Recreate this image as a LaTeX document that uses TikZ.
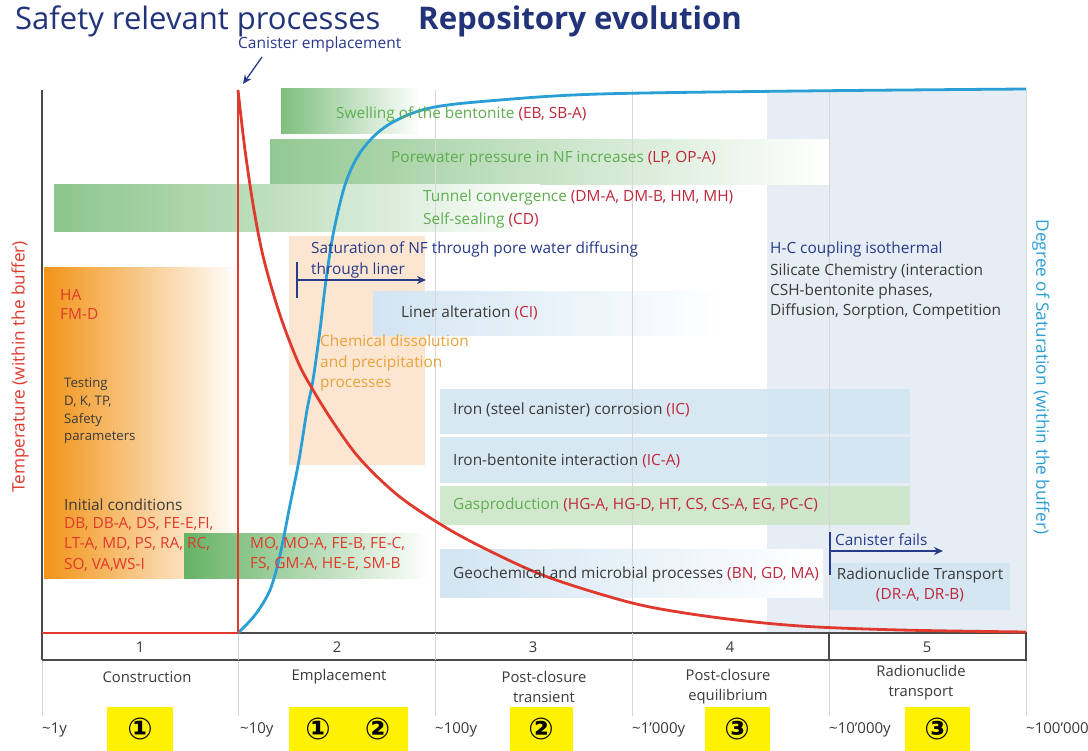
\documentclass[tikz,border=0pt]{standalone}
\usepackage{fontspec}
\setmainfont{Open Sans}
\newfontfamily\circfont{DejaVu Sans}[BoldFont=DejaVu Sans Bold]
\usetikzlibrary{arrows.meta}

\definecolor{navy}{HTML}{283A8A}
\definecolor{titleblue}{HTML}{22337A}
\definecolor{txtgreen}{HTML}{5FAE50}
\definecolor{codered}{HTML}{C0263A}
\definecolor{hotred}{HTML}{E03A2A}
\definecolor{dark}{HTML}{3A3A3A}
\definecolor{chemorange}{HTML}{E8A33A}
\definecolor{satblue}{HTML}{2A9FD6}
\definecolor{curvered}{HTML}{E03A2E}
\definecolor{barg}{HTML}{7FBF7F}
\definecolor{barorange}{HTML}{F29418}
\definecolor{peach}{HTML}{FCE6D2}
\definecolor{lightblue}{HTML}{D2E5F2}
\definecolor{colbg}{HTML}{E6EDF4}
\definecolor{gasgreen}{HTML}{CCE6C8}
\definecolor{gridgrey}{HTML}{D6D6D6}
\definecolor{axisgrey}{HTML}{4A4A4A}

\begin{document}
\begin{tikzpicture}[x=1pt,y=-1pt,
  txt/.style={inner sep=0pt, anchor=base west, font=\fontsize{15.4}{17}\selectfont},
  smalltxt/.style={inner sep=0pt, anchor=base west, font=\fontsize{13.2}{14}\selectfont, text=dark},
  phase/.style={inner sep=0pt, align=center, font=\fontsize{14.8}{20}\selectfont, text=dark},
  tick/.style={inner sep=0pt, anchor=base west, font=\fontsize{15}{16}\selectfont, text=dark},
  circ/.style={fill=yellow, inner sep=0pt, minimum height=44pt, font=\circfont\bfseries\fontsize{30}{30}\selectfont},
  grid/.style={draw=gridgrey, line width=1pt},
  pointer/.style={navy, line width=1.6pt, -{Stealth[length=9pt,width=8pt]}}]

\useasboundingbox (0,0) rectangle (1088,751);
\fill[white] (0,0) rectangle (1088,751);

% headings
\node[inner sep=0pt, anchor=base west, text=titleblue, font=\fontsize{31}{33}\selectfont] (t1) at (15,30) {Safety relevant processes};
\node[inner sep=0pt, anchor=base west, text=titleblue, font=\bfseries\fontsize{31.2}{33}\selectfont] (t2) at (418,30) {Repository evolution};

% background column of the late phases
\fill[colbg] (767,90) rectangle (1026,633);

% process bars
\shade[left color=barorange, right color=white] (44,268) rectangle (238,578);
\fill[peach] (289,236) rectangle (425,465);
\shade[left color=barg, right color=white] (281,89) rectangle (420,134);
\shade[left color=barg!85, right color=white] (270,140) rectangle (829,185);
\shade[left color=barg!90, right color=white] (54,185) rectangle (540,232);
\shade[left color=lightblue, right color=white] (373,292) rectangle (727,336);
\shade[left color=barg!120, right color=white] (184,533) rectangle (430,578);
\fill[lightblue, opacity=0.85] (440,389) rectangle (910,434);
\fill[lightblue, opacity=0.85] (440,437) rectangle (910,483);
\fill[gasgreen, opacity=0.9] (440,486) rectangle (910,525);
\shade[left color=lightblue, right color=white] (440,549) rectangle (823,597);
\fill[lightblue!90!colbg] (829,563) rectangle (1010,610);

% grid lines
\foreach \gx in {435,632,829,1026} \draw[grid] (\gx,90) -- (\gx,633);

% bottom phase scale
\foreach \gx in {42,238,435,632,829,1026} \draw[grid] (\gx,660) -- (\gx,716);
\draw[axisgrey, line width=1.2pt] (238,633) -- (1026,633) -- (1026,660) -- (42,660);
\foreach \gx in {238,435,632} \draw[grid] (\gx,633) -- (\gx,660);
\draw[axisgrey, line width=1.2pt] (829,633) -- (829,660);
\draw[axisgrey, line width=2pt] (42,90) -- (42,660);

% temperature and saturation curves
\draw[satblue, line width=2.8pt, line join=round] plot[smooth, tension=0.55] coordinates {
  (238,633) (255,615) (270,590) (280,555) (290,505) (299,460) (307,410) (313,380)
  (320,330) (326,280) (334,230) (346,182) (362,150) (388,125) (430,108) (500,100)
  (600,94) (800,91) (1026,89)};
\draw[curvered, line width=2.8pt, line join=round] (42,633) -- (238,633) -- (238,90);
\draw[curvered, line width=2.8pt, line join=round] plot[smooth, tension=0.55] coordinates {
  (238,90) (245,150) (254,210) (264,260) (280,315) (298,362) (313,390) (335,425)
  (361,460) (400,497) (450,530) (500,556) (545,576) (600,594) (650,607) (720,618)
  (800,626) (900,630) (1026,632)};

% axis titles
\node[inner sep=0pt, rotate=90, text=curvered, font=\fontsize{17.2}{18}\selectfont] (ytemp) at (20,367) {Temperature (within the buffer)};
\node[inner sep=0pt, rotate=-90, text=satblue, font=\fontsize{17.2}{18}\selectfont] (ysat) at (1041,377) {Degree of Saturation (within the buffer)};

% canister emplacement
\node[inner sep=0pt, anchor=base west, text=navy, font=\fontsize{15.5}{16}\selectfont] (ce) at (238,49) {Canister emplacement};
\coordinate (ceFrom) at (262,57);
\coordinate (ceTo) at (243,84);
\draw[pointer, line width=1.3pt] (ceFrom) -- (ceTo);

% process labels
\node[txt] (swell) at (336,119) {\color{txtgreen}Swelling of the bentonite \color{codered}(EB, SB-A)};
\node[txt] (pore) at (391,163) {\color{txtgreen}Porewater pressure in NF increases \color{codered}(LP, OP-A)};
\node[txt] (tunnel) at (423,202) {\color{txtgreen}Tunnel convergence \color{codered}(DM-A, DM-B, HM, MH)};
\node[txt] (seal) at (423,225) {\color{txtgreen}Self-sealing \color{codered}(CD)};
\node[txt, text=navy] (sat1) at (311,254) {Saturation of NF through pore water diffusing};
\node[txt, text=navy] (sat2) at (311,275) {through liner};
\coordinate (satTickTop) at (297,262);
\coordinate (satTickBot) at (297,298);
\coordinate (satL) at (297,280);
\coordinate (satR) at (426,280);
\draw[navy, line width=1.6pt] (satTickTop) -- (satTickBot);
\draw[pointer] (satL) -- (satR);
\node[txt, text=dark] (liner) at (401,318) {Liner alteration \color{codered}(CI)};
\node[txt, text=chemorange, align=left, anchor=north west, font=\fontsize{15.4}{20.5}\selectfont] (chem) at (320,335) {Chemical dissolution\\and precipitation\\processes};

\node[txt, text=navy] (hc) at (770,254) {H-C coupling isothermal};
\node[txt, text=dark, align=left, anchor=north west, font=\fontsize{15.4}{20}\selectfont] (sil) at (770,264) {Silicate Chemistry (interaction\\CSH-bentonite phases,\\Diffusion, Sorption, Competition};

\node[txt, text=hotred, align=left, anchor=north west, font=\fontsize{15.4}{19}\selectfont] (ha) at (60,289) {HA\\FM-D};
\node[smalltxt, align=left, anchor=north west, font=\fontsize{13.2}{17.6}\selectfont] (test) at (64,378) {Testing\\D, K, TP,\\Safety\\parameters};
\node[txt, text=dark] (init) at (64,510) {Initial conditions};
\node[txt, text=hotred, align=left, anchor=north west, font=\fontsize{15.4}{20.5}\selectfont] (initc) at (64,517) {DB, DB-A, DS, FE-E,FI,\\LT-A, MD, PS, RA, RC,\\SO, VA,WS-I};
\node[txt, text=hotred, align=left, anchor=north west, font=\fontsize{15.4}{20.5}\selectfont] (empc) at (250,537) {MO, MO-A, FE-B, FE-C,\\FS, GM-A, HE-E, SM-B};

\node[txt, text=dark] (iron) at (453,415) {Iron (steel canister) corrosion \color{codered}(IC)};
\node[txt, text=dark] (ironb) at (453,466) {Iron-bentonite interaction \color{codered}(IC-A)};
\node[txt] (gas) at (453,509) {\color{txtgreen}Gasproduction \color{codered}(HG-A, HG-D, HT, CS, CS-A, EG, PC-C)};
\node[txt, text=dark] (geo) at (453,578) {Geochemical and microbial processes \color{codered}(BN, GD, MA)};

% canister failure
\node[txt, text=navy] (cf) at (835,545) {Canister fails};
\coordinate (cfTickTop) at (830,532);
\coordinate (cfTickBot) at (830,575);
\coordinate (cfL) at (830,551);
\coordinate (cfR) at (943,551);
\draw[navy, line width=1.6pt] (cfTickTop) -- (cfTickBot);
\draw[pointer] (cfL) -- (cfR);
\node[txt, text=dark, align=center, anchor=center, font=\fontsize{15.4}{20}\selectfont] (rt) at (920,585) {Radionuclide Transport\\\color{codered}(DR-A, DR-B)};

% phase numbers and names
\node[phase] (n1) at (140,647) {1};
\node[phase] (n2) at (337,647) {2};
\node[phase] (n3) at (533,647) {3};
\node[phase] (n4) at (730,647) {4};
\node[phase] (n5) at (927,647) {5};
\node[phase] (p1) at (147,677) {Construction};
\node[phase] (p2) at (339,677) {Emplacement};
\node[phase] (p3) at (544,687) {Post-closure\\transient};
\node[phase] (p4) at (728,687) {Post-closure\\equilibrium};
\node[phase] (p5) at (921,683) {Radionuclide\\transport};

% time marks (the last one runs past the right edge)
\node[tick] (y1) at (42,733) {\textasciitilde1y};
\node[tick] (y10) at (240,733) {\textasciitilde10y};
\node[tick] (y100) at (435,733) {\textasciitilde100y};
\node[tick] (y1k) at (632,733) {\textasciitilde1'000y};
\node[tick] (y10k) at (829,733) {\textasciitilde10'000y};
\node[tick] (y100k) at (1026,733) {\textasciitilde100'000y};

% marked phases
\node[circ, minimum width=66pt] (m1) at (140,729) {①};
\node[circ, minimum width=58pt] (m2) at (318,729) {①};
\node[circ, minimum width=61pt] (m3) at (377.5,729) {②};
\node[circ, minimum width=63pt] (m4) at (541,729) {②};
\node[circ, minimum width=65pt] (m5) at (737,729) {③};
\node[circ, minimum width=65pt] (m6) at (937,729) {③};
\end{tikzpicture}
\end{document}
